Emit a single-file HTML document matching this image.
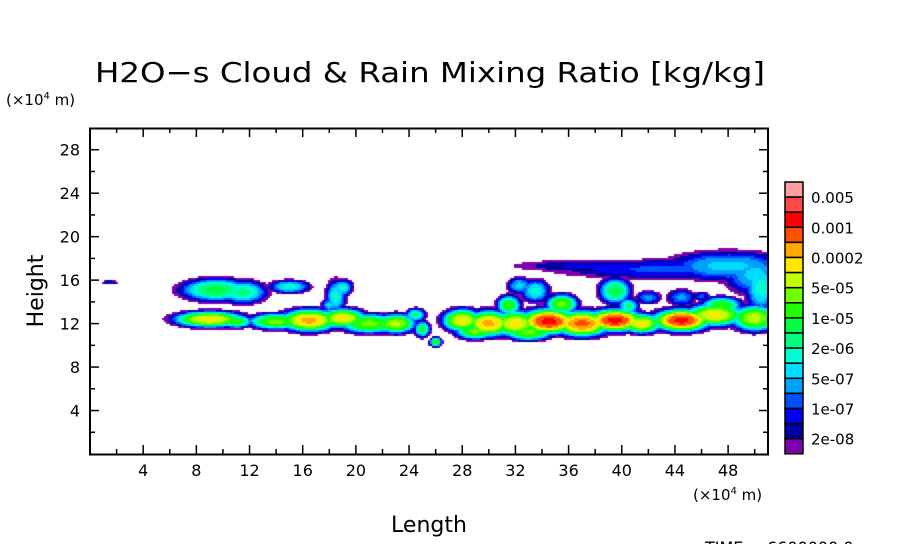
<!DOCTYPE html>
<html><head><meta charset="utf-8"><style>
body{margin:0;background:#fff;}
#wrap{position:relative;width:904px;height:544px;overflow:hidden;font-family:"DejaVu Sans","Liberation Sans",sans-serif;}
svg text{font-family:"DejaVu Sans","Liberation Sans",sans-serif;}
</style></head><body>
<div id="wrap">
<svg id="svg" width="904" height="544" style="position:absolute;left:0;top:0">
<text x="95" y="82" font-size="28" textLength="670" lengthAdjust="spacingAndGlyphs">H2O−s Cloud &amp; Rain Mixing Ratio [kg/kg]</text>
<text x="6" y="105" font-size="15">(×10<tspan dy="-6" font-size="10">4</tspan><tspan dy="6"> m)</tspan></text>
<text x="693" y="500" font-size="15">(×10<tspan dy="-6" font-size="10">4</tspan><tspan dy="6"> m)</tspan></text>
<text transform="translate(43,291) rotate(-90)" font-size="22" text-anchor="middle">Height</text>
<text x="429" y="532" font-size="22" text-anchor="middle">Length</text>
<text x="705" y="553" font-size="16">TIME = 6600000.0</text>
<g id="axes"></g>
<g id="cbar"></g>
</svg>
<canvas id="cv" width="678" height="326" style="position:absolute;left:90px;top:128px"></canvas>
<svg width="904" height="544" style="position:absolute;left:0;top:0;pointer-events:none"><rect x="90" y="128.5" width="678" height="326" fill="none" stroke="#000" stroke-width="2"/></svg>
</div>
<script>
const xTicks=[4,8,12,16,20,24,28,32,36,40,44,48];
const yTicks=[4,8,12,16,20,24,28];
const levelColors=["#8000b0","#0000a0","#0000ee","#0050ff","#00a0ff","#00dcff","#00ffd0","#00ff80","#00ff40","#20ff00","#70ff00","#c0ff00","#ffe800","#ffa800","#ff5000","#ff0000","#ff4848","#ffa0a0"];
const levelLabels=["2e-08","1e-07","5e-07","2e-06","1e-05","5e-05","0.0002","0.001","0.005"];
// cloud blobs: center x, center y (x10^4 m), spread x, spread y, peak level
const blobX=[1.5,9.5,11.5,15,18.5,19,18,9,11,14,16.5,19,21,23,25,26,28,30,32,34.5,37,39.5,41.5,44.5,47,50,31.5,35.5,47.5,32.3,33.5,39.5,40.5,42,44.5,46,44,48,50,38,50.5,24.5,29,33];
const blobY=[15.8,15.1,14.9,15.4,14.5,15.3,13.7,12.4,12.2,12.2,12.3,12.5,12,12,11.5,10.3,12.3,12,12,12.2,12,12.3,12,12.3,12.8,12.5,13.7,13.8,13.7,15.5,15,15,13.6,14.4,14.4,14.5,17,17.3,16.5,17.3,15.3,12.8,11.3,11.2];
const blobSX=[0.4,1.8,1.2,1,0.5,0.5,0.4,1.8,0.8,1.4,1.5,1.2,1.5,1,0.4,0.3,1,1.2,1.2,1.5,1.5,1.5,1,1.5,1.5,1.2,0.6,0.8,1,0.6,0.7,0.8,0.5,0.6,0.7,0.4,6,3,1.5,4,0.8,0.5,1,1.2];
const blobSY=[0.12,0.7,0.7,0.4,1,0.5,0.4,0.5,0.4,0.5,0.7,0.6,0.6,0.6,0.5,0.3,0.7,0.8,0.8,0.8,0.8,0.7,0.6,0.7,0.7,0.8,0.6,0.6,0.5,0.5,0.7,0.8,0.5,0.4,0.5,0.3,0.6,0.9,1.2,0.4,1.5,0.4,0.5,0.5];
const blobPeak=[2,8,7,6,6,6,5,12,9,10,13,12,10,11,8,9,12,13,12,15,14,15,12,15,12,11,9,10,9,5,6,8,7,4,4,3,3,5,5,2,6,7,10,10];
const X0=90,X1=768,Y0=454,Y1=128,XMAX=51,YMAX=30;
const sx=v=>X0+v/XMAX*(X1-X0), sy=v=>Y0-v/YMAX*(Y0-Y1);
const NS="http://www.w3.org/2000/svg";
function mk(t,a,p){const e=document.createElementNS(NS,t);for(const k in a)e.setAttribute(k,a[k]);p.appendChild(e);return e;}
const ax=document.getElementById('axes');
for(let v=2;v<XMAX;v+=2){const maj=v%4===0;const x=sx(v);
 const t1=mk('line',{x1:x,x2:x,y1:454,y2:454-(maj?9:5),stroke:'#000','stroke-width':1.5},ax);
 
 const t2=mk('line',{x1:x,x2:x,y1:128,y2:128+(maj?9:5),stroke:'#000','stroke-width':1.5},ax);
 }
xTicks.forEach(v=>{const t=mk('text',{x:sx(v),y:476,'font-size':16,'text-anchor':'middle'},ax);t.textContent=v;
 });
for(let v=2;v<YMAX;v+=2){const maj=v%4===0;const y=sy(v);
 const t1=mk('line',{x1:90,x2:90+(maj?9:5),y1:y,y2:y,stroke:'#000','stroke-width':1.5},ax);
 
 const t2=mk('line',{x1:768,x2:768-(maj?9:5),y1:y,y2:y,stroke:'#000','stroke-width':1.5},ax);
 }
yTicks.forEach(v=>{const t=mk('text',{x:80,y:sy(v)+6,'font-size':16,'text-anchor':'end'},ax);t.textContent=v;
 });
const cb=document.getElementById('cbar');const bTop=182,bH=15.1,n=levelColors.length;
for(let i=0;i<n;i++){const r=mk('rect',{x:785,y:bTop+i*bH,width:18,height:bH,fill:levelColors[n-1-i],stroke:'#000','stroke-width':1.5},cb);
 }
levelLabels.forEach((l,j)=>{const i=n-1-2*j;const t=mk('text',{x:811,y:bTop+i*bH+6,'font-size':15},cb);t.textContent=l;
 });
const cv=document.getElementById('cv'),c=cv.getContext('2d');const cell=2;
for(let py=0;py<326;py+=cell){for(let px=0;px<678;px+=cell){
 const vx=(px+1)/678*XMAX, vy=(326-py-1)/326*YMAX;let f=0;
 for(let k=0;k<blobX.length;k++){const dx=(vx-blobX[k])/blobSX[k],dy=(vy-blobY[k])/blobSY[k];const d=dx*dx+dy*dy;if(d>9)continue;
  const g=(blobPeak[k]+1.2)*Math.exp(-0.3*Math.pow(d,1.6));if(g>f)f=g;}
 const lv=Math.floor(f)-1;if(lv>=0){c.fillStyle=levelColors[Math.min(lv,n-1)];c.fillRect(px,py,cell,cell);}
}}
</script>
</body></html>
